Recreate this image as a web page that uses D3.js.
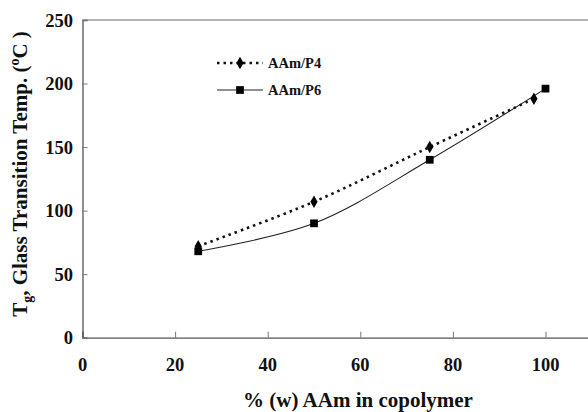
<!DOCTYPE html>
<html>
<head>
<meta charset="utf-8">
<script src="https://cdn.jsdelivr.net/npm/d3@7"></script>
<style>
  body { margin: 0; background: #fff; }
  text { font-family: "Liberation Serif", "Times New Roman", serif; font-weight: bold; fill: #111; }
</style>
</head>
<body>
<svg id="chart" width="588" height="412"></svg>
<script>
// data
var seriesNames = ["AAm/P4", "AAm/P6"];
var p4X = [25, 50, 75, 97.5];
var p4Y = [72, 107, 150, 188];
var p6X = [25, 50, 75, 100];
var p6Y = [68, 90, 140, 196];
var xTicks = [0, 20, 40, 60, 80, 100];
var yTicks = [0, 50, 100, 150, 200, 250];

var svg = d3.select("#chart");
var plotLeft = 82.5, plotTop = 20, plotBottom = 337.7;

var x = d3.scaleLinear().domain([0, 110]).range([plotLeft, plotLeft + 110 * 4.63]);
var y = d3.scaleLinear().domain([0, 250]).range([plotBottom, plotTop]);

// top frame line
svg.append("line")
    .attr("x1", plotLeft).attr("x2", 588)
    .attr("y1", plotTop).attr("y2", plotTop)
    .attr("stroke", "#999").attr("stroke-width", 1.5);

// axes
var xAxis = svg.append("g")
    .attr("transform", "translate(0," + plotBottom + ")")
    .call(d3.axisTop(x).tickValues(xTicks).tickSize(6).tickFormat(""));
xAxis.select(".domain").attr("stroke", "#555").attr("stroke-width", 1.3);
xAxis.selectAll(".tick line").attr("stroke", "#777");

var yAxis = svg.append("g")
    .attr("transform", "translate(" + plotLeft + ",0)")
    .call(d3.axisRight(y).tickValues(yTicks).tickSize(5).tickFormat(""));
yAxis.select(".domain").attr("stroke", "#555").attr("stroke-width", 1.3);
yAxis.selectAll(".tick line").attr("stroke", "#777");

// tick labels
svg.selectAll(".xlab").data(xTicks).enter().append("text")
    .attr("x", function(d){ return x(d); })
    .attr("y", 371)
    .attr("text-anchor", "middle")
    .style("font-size", "18.5px")
    .text(function(d){ return d; });

svg.selectAll(".ylab").data(yTicks).enter().append("text")
    .attr("x", 73)
    .attr("y", function(d){ return y(d) + 6.5; })
    .attr("text-anchor", "end")
    .style("font-size", "18.5px")
    .text(function(d){ return d; });

// axis titles
svg.append("text")
    .attr("x", 358).attr("y", 407)
    .attr("text-anchor", "middle")
    .style("font-size", "21px")
    .text("% (w) AAm in copolymer");

var yt = svg.append("text")
    .attr("transform", "translate(27,174) rotate(-90)")
    .attr("text-anchor", "middle")
    .style("font-size", "21px");
yt.append("tspan").text("T");
yt.append("tspan").attr("dy", 5).style("font-size", "14px").text("g");
yt.append("tspan").attr("dy", -5).text(", Glass Transition Temp. (");
yt.append("tspan").attr("dy", -8).style("font-size", "14px").text("o");
yt.append("tspan").attr("dy", 8).text("C )");

var line = d3.line()
    .x(function(d){ return x(d[0]); })
    .y(function(d){ return y(d[1]); })
    .curve(d3.curveCatmullRom.alpha(0.5));

var p4 = d3.zip(p4X, p4Y);
var p6 = d3.zip(p6X, p6Y);

svg.append("path").datum(p6)
    .attr("d", line)
    .attr("fill", "none").attr("stroke", "#222").attr("stroke-width", 1.1);

svg.append("path").datum(p4)
    .attr("d", line)
    .attr("fill", "none").attr("stroke", "#111").attr("stroke-width", 2.6)
    .attr("stroke-dasharray", "2.5,4");

var diamond = d3.symbol().type(d3.symbolDiamond).size(45);
var square = d3.symbol().type(d3.symbolSquare).size(60);

svg.selectAll(".p6m").data(p6).enter().append("path")
    .attr("d", square)
    .attr("transform", function(d){ return "translate(" + x(d[0]) + "," + y(d[1]) + ")"; })
    .attr("fill", "#000");

svg.selectAll(".p4m").data(p4).enter().append("path")
    .attr("d", diamond)
    .attr("transform", function(d){ return "translate(" + x(d[0]) + "," + y(d[1]) + ")"; })
    .attr("fill", "#000");

// legend
var lg = svg.append("g");
lg.append("line").attr("x1", 217).attr("x2", 263).attr("y1", 63).attr("y2", 63)
    .attr("stroke", "#111").attr("stroke-width", 2.4).attr("stroke-dasharray", "2.5,4");
lg.append("path").attr("d", diamond).attr("transform", "translate(240,63)").attr("fill", "#000");
lg.append("text").attr("x", 268).attr("y", 68).style("font-size", "14.5px").text(seriesNames[0]);

lg.append("line").attr("x1", 217).attr("x2", 263).attr("y1", 90).attr("y2", 90)
    .attr("stroke", "#222").attr("stroke-width", 1.1);
lg.append("path").attr("d", square).attr("transform", "translate(240,90)").attr("fill", "#000");
lg.append("text").attr("x", 268).attr("y", 95).style("font-size", "14.5px").text(seriesNames[1]);
</script>
</body>
</html>
